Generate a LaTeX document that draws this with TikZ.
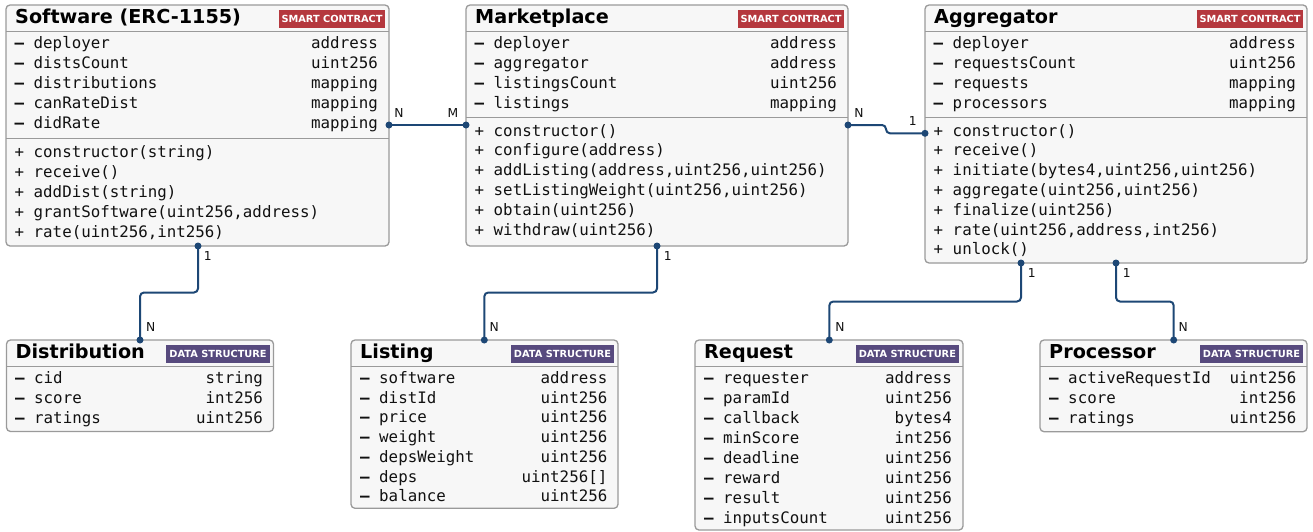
\documentclass[tikz,border=0pt]{standalone}
\usepackage{fontspec}
\setmainfont{DejaVu Sans}
\setmonofont{DejaVu Sans Mono}
\usetikzlibrary{calc}
\definecolor{boxfill}{HTML}{F7F7F7}
\definecolor{boxline}{HTML}{9A9A9A}
\definecolor{scred}{HTML}{B5383E}
\definecolor{dspurple}{HTML}{574A7E}
\definecolor{conncol}{HTML}{1D4775}
\definecolor{txt}{HTML}{111111}
\tikzset{
 umlbox/.style={draw=boxline, fill=boxfill, line width=1.3pt, rounded corners=4pt, inner sep=0, outer sep=0, anchor=north west},
 divider/.style={draw=boxline, line width=1.3pt},
 title/.style={font=\fontsize{19.2}{20}\selectfont\bfseries, text=black, inner sep=0, anchor=base west},
 badge/.style={font=\fontsize{9.8}{10}\selectfont\bfseries, text=white, inner sep=0, anchor=north east, minimum height=18.4pt},
 scbadge/.style={badge, fill=scred, minimum width=105.5pt},
 dsbadge/.style={badge, fill=dspurple, minimum width=103.5pt},
 row/.style={font=\fontsize{15.8}{17}\selectfont\ttfamily, text=txt, inner sep=0},
 conn/.style={draw=conncol, line width=2pt, rounded corners=4pt},
 dot/.style={fill=conncol},
 card/.style={font=\fontsize{12.3}{13}\selectfont, text=txt, inner sep=0},
}
\newcommand\classbox[5]{\node[umlbox, minimum width=#4-#2, minimum height=#5-#3] (#1) at (#2,#3) {};}
\newcommand\fields[6]{%
 \foreach \n/\t [count=\i from 0] in {#6} {
   \node[row, anchor=base west] (#1-f\i) at (#2, {#4+\i*#5}) {\textbf{–} \n};
   \node[row, anchor=base east] (#1-t\i) at (#3, {#4+\i*#5}) {\t};
 }}
\newcommand\methods[5]{%
 \foreach \m [count=\i from 0] in {#5} {
   \node[row, anchor=base west] (#1-m\i) at (#2, {#3+\i*#4}) {+ \m};
 }}
\begin{document}
\begin{tikzpicture}[x=1pt,y=-1pt]
\useasboundingbox[fill=white] (0,0) rectangle (1313,531);
% ---------- Software
\classbox{sw}{6}{5}{389}{246}
\draw[divider] (6,31.5) -- (389,31.5);
\draw[divider] (6,138.5) -- (389,138.5);
\node[title] (sw-title) at (15,23) {Software (ERC-1155)};
\node[scbadge] (sw-badge) at (385,9.3) {SMART CONTRACT};
\fields{sw}{14.5}{378}{48.3}{20}{deployer/address, distsCount/uint256, distributions/mapping, canRateDist/mapping, didRate/mapping}
\methods{sw}{14.5}{157.3}{20}{{constructor(string)},{receive()},{addDist(string)},{grantSoftware(uint256,address)},{rate(uint256,int256)}}
% ---------- Marketplace
\classbox{mp}{466}{5}{848}{246}
\draw[divider] (466,31.5) -- (848,31.5);
\draw[divider] (466,117.3) -- (848,117.3);
\node[title] (mp-title) at (475,23) {Marketplace};
\node[scbadge] (mp-badge) at (844,9.3) {SMART CONTRACT};
\fields{mp}{474.5}{837}{48.3}{20}{deployer/address, aggregator/address, listingsCount/uint256, listings/mapping}
\methods{mp}{474.5}{136}{19.8}{{constructor()},{configure(address)},{addListing(address,uint256,uint256)},{setListingWeight(uint256,uint256)},{obtain(uint256)},{withdraw(uint256)}}
% ---------- Aggregator
\classbox{ag}{925}{5}{1307}{263}
\draw[divider] (925,31.5) -- (1307,31.5);
\draw[divider] (925,117.3) -- (1307,117.3);
\node[title] (ag-title) at (934,23) {Aggregator};
\node[scbadge] (ag-badge) at (1303,9.3) {SMART CONTRACT};
\fields{ag}{933.5}{1296}{48.3}{20}{deployer/address, requestsCount/uint256, requests/mapping, processors/mapping}
\methods{ag}{933.5}{136}{19.83}{{constructor()},{receive()},{initiate(bytes4,uint256,uint256)},{aggregate(uint256,uint256)},{finalize(uint256)},{rate(uint256,address,int256)},{unlock()}}
% ---------- Distribution
\classbox{di}{6.5}{340}{273.5}{431.5}
\draw[divider] (6.5,366.7) -- (273.5,366.7);
\node[title] (di-title) at (15.5,358.3) {Distribution};
\node[dsbadge] (di-badge) at (270,344.3) {DATA STRUCTURE};
\fields{di}{15}{263}{383.3}{20}{cid/string, score/int256, ratings/uint256}
% ---------- Listing
\classbox{li}{351}{340}{618}{508.3}
\draw[divider] (351,366.7) -- (618,366.7);
\node[title] (li-title) at (360,358.3) {Listing};
\node[dsbadge] (li-badge) at (614.5,344.3) {DATA STRUCTURE};
\fields{li}{360}{607.5}{383.3}{19.75}{software/address, distId/uint256, price/uint256, weight/uint256, depsWeight/uint256, deps/{uint256[]}, balance/uint256}
% ---------- Request
\classbox{rq}{695}{340}{963}{530}
\draw[divider] (695,366.7) -- (963,366.7);
\node[title] (rq-title) at (704,358.3) {Request};
\node[dsbadge] (rq-badge) at (959.3,344.3) {DATA STRUCTURE};
\fields{rq}{704}{952}{383.3}{20}{requester/address, paramId/uint256, callback/bytes4, minScore/int256, deadline/uint256, reward/uint256, result/uint256, inputsCount/uint256}
% ---------- Processor
\classbox{pr}{1040}{340}{1307}{431.7}
\draw[divider] (1040,366.7) -- (1307,366.7);
\node[title] (pr-title) at (1049,358.3) {Processor};
\node[dsbadge] (pr-badge) at (1303.5,344.3) {DATA STRUCTURE};
\fields{pr}{1049}{1296.5}{383.3}{20}{activeRequestId/uint256, score/int256, ratings/uint256}
% ---------- Connectors
\coordinate (p1a) at ($(sw.north east)+(0,120)$);
\coordinate (p1b) at ($(mp.north west)+(0,120)$);
\coordinate (p2a) at ($(mp.north east)+(0,120)$);
\coordinate (p2b) at ($(ag.north west)+(0,128.3)$);
\coordinate (p3a) at ($(sw.south west)+(192,0)$);
\coordinate (p3b) at ($(di.north west)+(133.5,0)$);
\coordinate (p4a) at ($(mp.south west)+(191,0)$);
\coordinate (p4b) at ($(li.north west)+(133.3,0)$);
\coordinate (p5a) at ($(ag.south west)+(96,0)$);
\coordinate (p5b) at ($(rq.north west)+(134.3,0)$);
\coordinate (p6a) at ($(ag.south west)+(191,0)$);
\coordinate (p6b) at ($(pr.north west)+(133.7,0)$);
\draw[conn] (p1a) -- (p1b);
\draw[conn] (p2a) -- ($(p2a)+(38,0)$) |- (p2b);
\draw[conn] (p3a) -- ($(p3a)+(0,46.5)$) -| (p3b);
\draw[conn] (p4a) -- ($(p4a)+(0,46.5)$) -| (p4b);
\draw[conn] (p5a) -- ($(p5a)+(0,38.5)$) -| (p5b);
\draw[conn] (p6a) -- ($(p6a)+(0,38.5)$) -| (p6b);
\foreach \p in {p1a,p1b,p2a,p2b,p3a,p3b,p4a,p4b,p5a,p5b,p6a,p6b} \fill[dot] (\p) circle (3.5);
% ---------- Cardinalities
\node[card] (c1a) at (399,113) {N};
\node[card] (c1b) at (453,113) {M};
\node[card] (c2a) at (859,113) {N};
\node[card] (c2b) at (912.7,120.7) {1};
\node[card] (c3a) at (207.7,255.7) {1};
\node[card] (c3b) at (150.7,327.3) {N};
\node[card] (c4a) at (667.7,255.7) {1};
\node[card] (c4b) at (494.3,327.3) {N};
\node[card] (c5a) at (1031.7,273.3) {1};
\node[card] (c5b) at (840,326.7) {N};
\node[card] (c6a) at (1126.7,273.3) {1};
\node[card] (c6b) at (1183.3,326.7) {N};
\end{tikzpicture}
\end{document}
